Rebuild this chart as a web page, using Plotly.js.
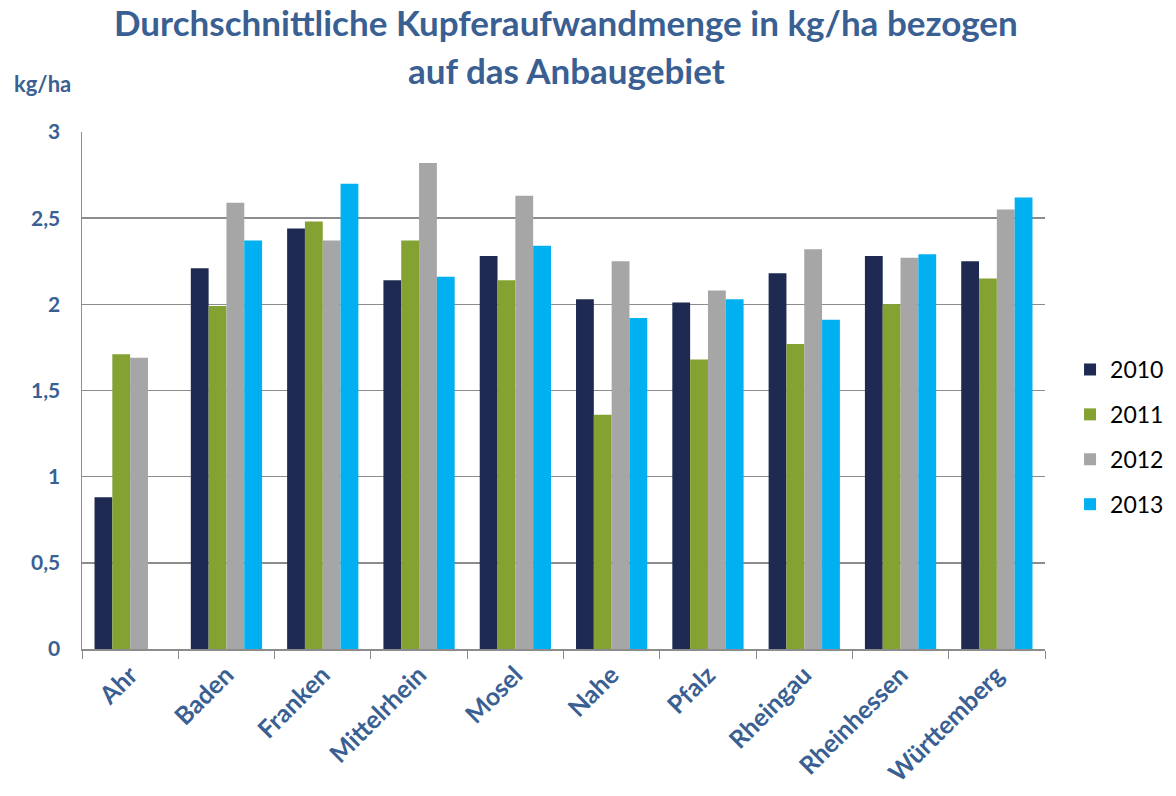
<!DOCTYPE html>
<html>
<head>
<meta charset="utf-8">
<script src="https://cdn.plot.ly/plotly-3.0.1.min.js"></script>
<style>
  html, body { margin: 0; padding: 0; background: #fff; }
  #chart { width: 1176px; height: 796px; }
</style>
</head>
<body>
<div id="chart"></div>
<script>
// Anbaugebiete
const regions = ["Ahr", "Baden", "Franken", "Mittelrhein", "Mosel", "Nahe", "Pfalz", "Rheingau", "Rheinhessen", "Württemberg"];

// kg/ha per year
const y2010 = [0.88, 2.21, 2.44, 2.14, 2.28, 2.03, 2.01, 2.18, 2.28, 2.25];
const y2011 = [1.71, 1.99, 2.48, 2.37, 2.14, 1.36, 1.68, 1.77, 2.00, 2.15];
const y2012 = [1.69, 2.59, 2.37, 2.82, 2.63, 2.25, 2.08, 2.32, 2.27, 2.55];
const y2013 = [null, 2.37, 2.70, 2.16, 2.34, 1.92, 2.03, 1.91, 2.29, 2.62];

const years = ["2010", "2011", "2012", "2013"];
const series = [y2010, y2011, y2012, y2013];
const colors = ["#1f2a52", "#83a232", "#a6a6a6", "#00b0f0"];

const titleLines = ["Durchschnittliche Kupferaufwandmenge in kg/ha bezogen", "auf das Anbaugebiet"];

const blue = "#3a5f93";
const font = "Lato, 'Open Sans', sans-serif";

let traces = [];
for (let i = 0; i < series.length; i++) {
  traces.push({
    type: "bar",
    x: regions,
    y: series[i],
    name: years[i],
    legendgroup: years[i],
    marker: { color: colors[i] },
    hoverinfo: "x+y+name",
  });
}

const layout = {
  width: 1176,
  height: 796,
  margin: { l: 82, r: 131, t: 132, b: 147, autoexpand: false },
  paper_bgcolor: "#fff",
  plot_bgcolor: "#fff",
  separators: ",.",
  barmode: "group",
  bargap: 0.26,
  bargroupgap: 0,
  font: { family: font, color: blue },
  xaxis: {
    type: "category",
    tickangle: -45,
    tickfont: { family: font, size: 25, color: blue, weight: "bold" },
    ticks: "outside",
    tickson: "boundaries",
    ticklen: 8,
    tickcolor: "#8c8c8c",
    showline: true,
    linecolor: "#8c8c8c",
    linewidth: 1.5,
    showgrid: false,
    zeroline: false,
    automargin: false,
  },
  yaxis: {
    range: [0, 3],
    dtick: 0.5,
    tickfont: { family: font, size: 21, color: blue, weight: "bold" },
    showgrid: true,
    gridcolor: "#8c8c8c",
    gridwidth: 1.5,
    showline: true,
    linecolor: "#8c8c8c",
    linewidth: 1.5,
    zeroline: false,
    ticks: "",
    ticklabelstandoff: 16,
    automargin: false,
  },
  legend: {
    x: 1.026,
    xanchor: "left",
    y: 0.41,
    yanchor: "middle",
    font: { family: font, size: 23, color: "#000" },
    tracegroupgap: 12,
    bgcolor: "rgba(0,0,0,0)",
  },
  annotations: [
    {
      text: "<b>" + titleLines[0] + "</b>",
      xref: "paper", yref: "paper",
      x: 0.503, xanchor: "center",
      y: 1.213, yanchor: "middle",
      showarrow: false,
      font: { family: font, size: 35, color: blue },
    },
    {
      text: "<b>" + titleLines[1] + "</b>",
      xref: "paper", yref: "paper",
      x: 0.503, xanchor: "center",
      y: 1.12, yanchor: "middle",
      showarrow: false,
      font: { family: font, size: 35, color: blue },
    },
    {
      text: "<b>kg/ha</b>",
      xref: "paper", yref: "paper",
      x: -0.0415, xanchor: "center",
      y: 1.093, yanchor: "middle",
      showarrow: false,
      font: { family: font, size: 22, color: blue },
    },
  ],
};

Plotly.newPlot("chart", traces, layout, { displayModeBar: false, staticPlot: true });
</script>
</body>
</html>
